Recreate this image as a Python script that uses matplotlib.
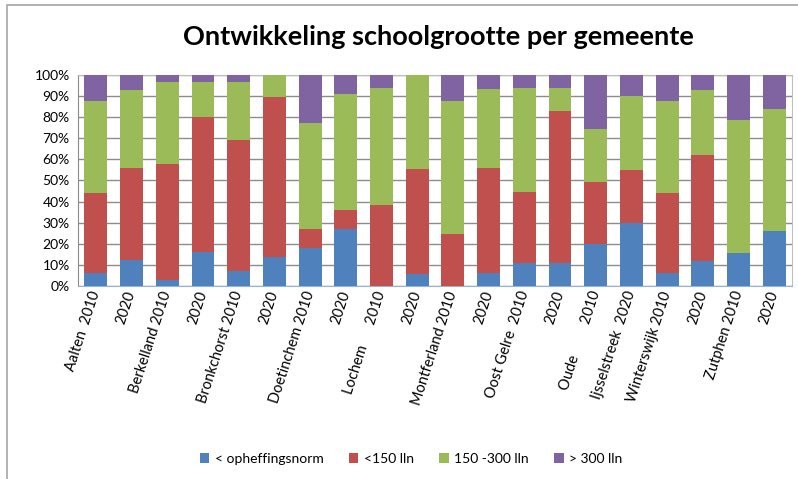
import matplotlib
matplotlib.use("Agg")
import matplotlib.pyplot as plt
import numpy as np
from matplotlib.patches import Rectangle
from matplotlib.ticker import PercentFormatter

plt.rcParams['font.family'] = ['Lato', 'DejaVu Sans']

# categories (municipality + year), as they appear under the bars
labels = ["Aalten  2010", "2020", "Berkelland 2010", "2020", "Bronkchorst 2010", "2020",
          "Doetinchem 2010", "2020", "Lochem      2010", "2020", "Montferland 2010", "2020",
          "Oost Gelre  2010", "2020", "Oude         2010", "Ijsselstreek  2020",
          "Winterswijk 2010", "2020", "Zutphen 2010", "2020"]

# share of schools per size class (%)
opheffing = [6, 12.5, 3, 16, 7, 13.5, 18, 27, 0, 5.5, 0, 6, 11, 11, 20, 30, 6, 12, 15.5, 26]
lln_150 = [38, 43.5, 55, 64, 62, 76, 9, 9, 38.5, 50, 24.5, 50, 33.5, 72, 29.5, 25, 38, 50, 0, 0]
lln_150_300 = [43.5, 37, 38.5, 16.5, 27.5, 10.5, 50, 55, 55.5, 44.5, 63, 37.5, 49.5, 11, 25, 35, 43.5, 31, 63, 58]
lln_300 = [12.5, 7, 3.5, 3.5, 3.5, 0, 23, 9, 6, 0, 12.5, 6.5, 6, 6, 25.5, 10, 12.5, 7, 21.5, 16]

series = [opheffing, lln_150, lln_150_300, lln_300]
names = ["< opheffingsnorm", "<150 lln", "150 -300 lln", "> 300 lln"]
colors = ["#4F81BD", "#C0504D", "#9BBB59", "#8064A2"]

fig = plt.figure(figsize=(7.98, 4.79), dpi=100)
ax = fig.add_axes([0.0977, 0.403, 0.895, 0.4405])

x = np.arange(len(labels))
bottom = np.zeros(len(labels))
for vals, name, col in zip(series, names, colors):
    vals = np.array(vals, dtype=float)
    ax.bar(x, vals, 0.64, bottom=bottom, color=col, label=name, zorder=3)
    bottom += vals

ax.set_xlim(-0.5, len(labels) - 0.5)
ax.set_ylim(0, 100)
ax.set_yticks(np.arange(0, 101, 10))
ax.yaxis.set_major_formatter(PercentFormatter(decimals=0))
ax.grid(axis='y', color='#8c8c8c', linewidth=1, zorder=0)
ax.tick_params(axis='y', length=0, labelsize=10, pad=6)
ax.tick_params(axis='x', length=0, pad=4)
ax.set_xticks(x)
ax.set_xticklabels(labels, rotation=72, ha='right', va='center',
                   rotation_mode='anchor', fontsize=10.5)
for s in ['top', 'right']:
    ax.spines[s].set_color('#bfbfbf')
ax.spines['left'].set_color('#8c8c8c')
ax.spines['bottom'].set_color('#95b3d7')

fig.text(0.55, 0.923, "Ontwikkeling schoolgrootte per gemeente",
         ha='center', va='center', fontsize=19.5, fontweight='bold')

fig.legend(loc='center', bbox_to_anchor=(0.515, 0.042), ncol=4, frameon=False,
           fontsize=10, handlelength=0.7, handleheight=0.7, handletextpad=0.4,
           columnspacing=1.8)

# chart border (cropped on the right and bottom)
fig.patches.append(Rectangle((7 / 798, -0.1), 1.2, 1 - 5 / 479 + 0.1,
                             transform=fig.transFigure, fill=False,
                             edgecolor='#a6a6a6', linewidth=1.2))

fig.savefig("out.png", dpi=100)
